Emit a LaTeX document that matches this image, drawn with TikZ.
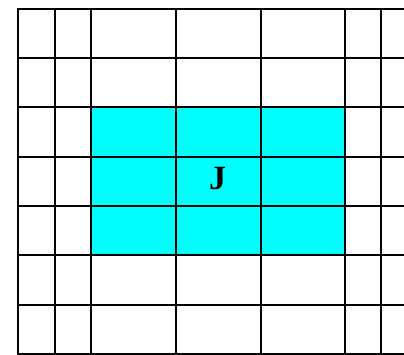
\documentclass[tikz,border=0pt]{standalone}
\usepackage{fontspec}
\setmainfont{Liberation Serif}
\definecolor{jcyan}{RGB}{0,255,255}
\begin{document}
\begin{tikzpicture}[x=1pt,y=-1pt,
  gridline/.style={line width=2pt,black},
  region/.style={fill=jcyan,draw=none},
  lbl/.style={font=\bfseries\fontsize{34}{34}\selectfont,inner sep=0pt}]
\useasboundingbox (0,0) rectangle (404,355);
\fill[white] (0,0) rectangle (404,355);
\fill[region] (90,107.4) rectangle (344.5,255.4);
\begin{scope}
\clip (0,0) rectangle (404,355);
\foreach \yy in {9,58,107.5,157,206,255.5,305,354}
  \draw[gridline] (17,\yy) -- (410,\yy);
\foreach \xx in {18,54.5,90.5,176,261,344.5,380.5}
  \draw[gridline] (\xx,8) -- (\xx,355);
\end{scope}
\node[lbl] (J) at (217.5,178.5) {J};
\end{tikzpicture}
\end{document}
